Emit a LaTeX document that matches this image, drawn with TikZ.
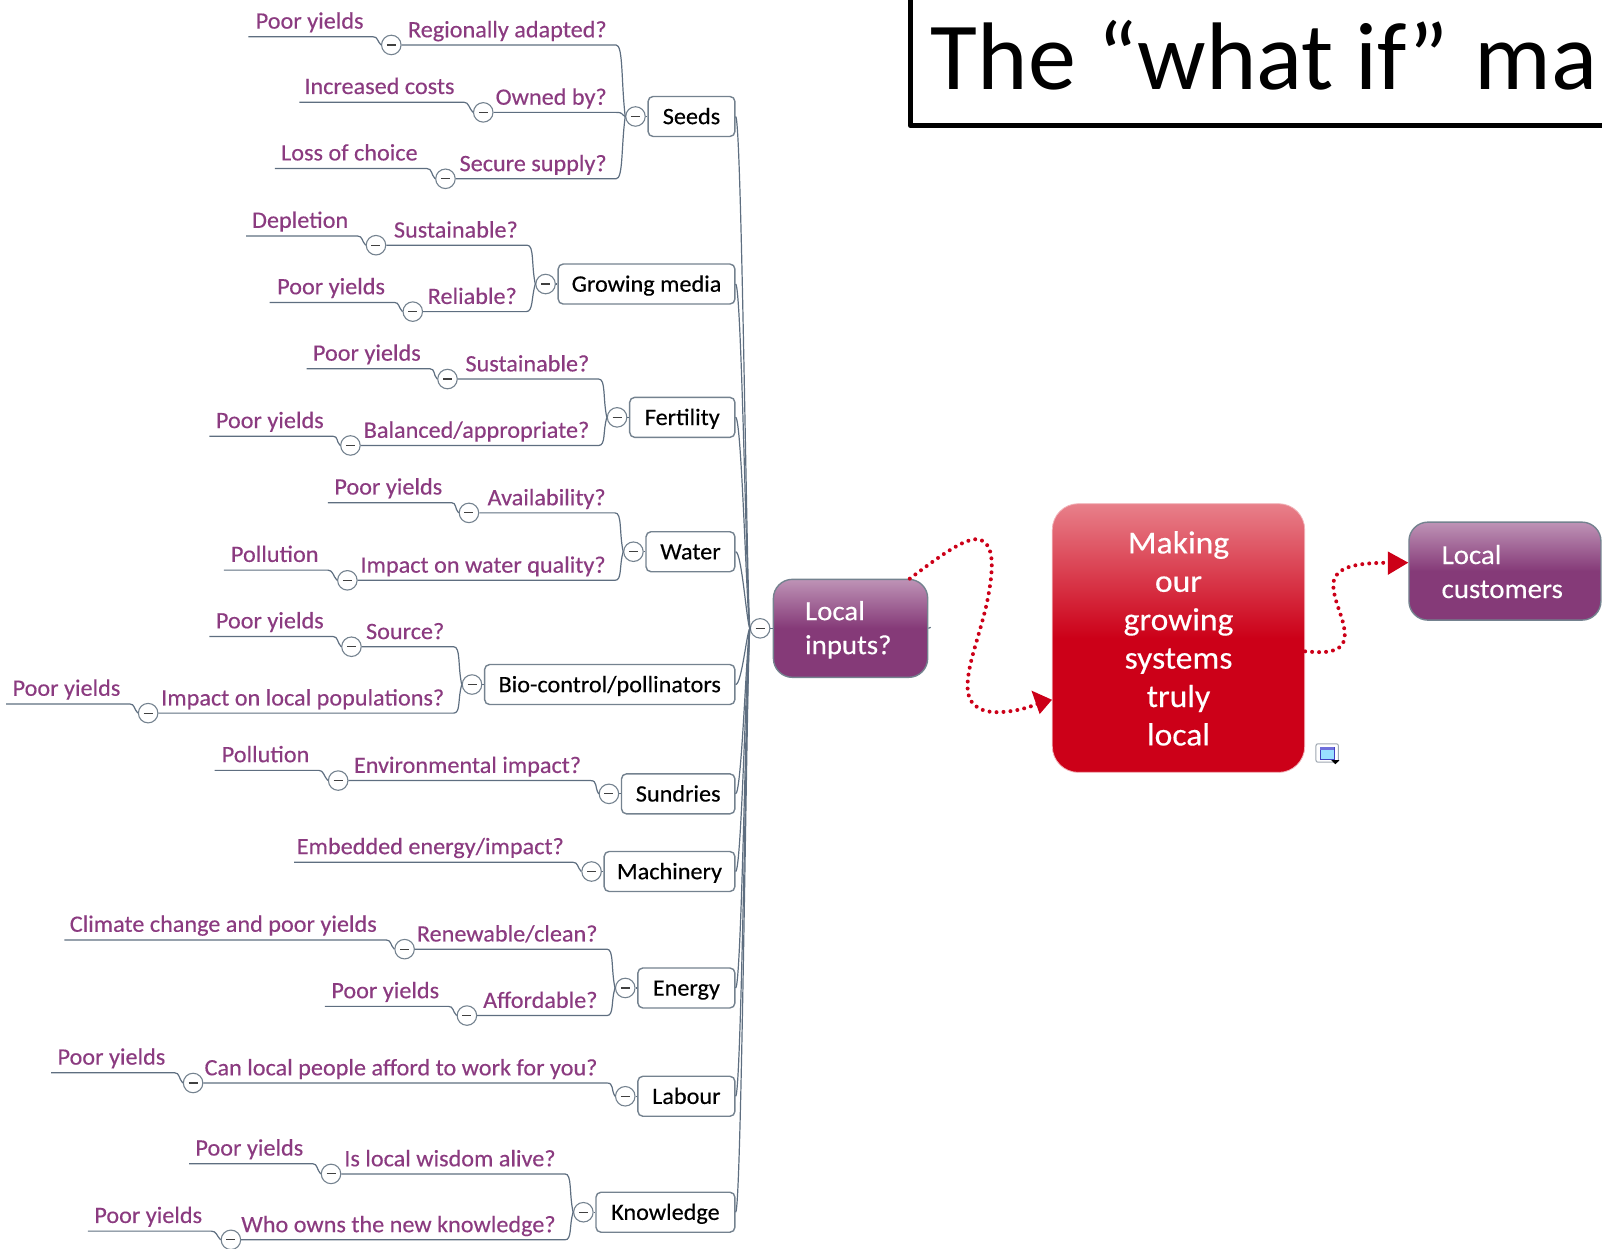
\documentclass[tikz,border=0pt]{standalone}
\usepackage{fontspec}
\setmainfont{Carlito}
\newfontfamily\mmfont[FakeBold=0.35,FakeStretch=1.03]{Carlito}
\newfontfamily\leadfont[FakeBold=0.3,FakeStretch=1.05]{Carlito}
\usetikzlibrary{calc,arrows.meta}
\definecolor{linkc}{HTML}{5E6E80}
\definecolor{boxc}{HTML}{74828F}
\definecolor{qc}{HTML}{8B3B80}
\definecolor{redtop}{HTML}{E8808A}
\definecolor{redbot}{HTML}{CC0018}
\definecolor{purtop}{HTML}{BE93B6}
\definecolor{purbot}{HTML}{853A78}
\tikzset{
  link/.style={draw=linkc,line width=1.2pt},
  topic/.style={draw=boxc,line width=1.4pt,fill=white,rounded corners=5pt,inner sep=0pt,minimum height=40pt,text height=20pt,text depth=4.7pt,font=\mmfont\fontsize{23.5}{25}\selectfont,text=black},
  minus/.style={circle,draw=boxc,line width=1.1pt,fill=white,minimum size=19.5pt,inner sep=0pt,
    path picture={\draw[line width=1.1pt,draw=black!75] ($(path picture bounding box.center)+(-4.5pt,0)$) -- ($(path picture bounding box.center)+(4.5pt,0)$);}},
  qtext/.style={text=qc,inner sep=0pt,font=\mmfont\fontsize{23.5}{25}\selectfont},
  lead/.style={draw=boxc,line width=1.4pt,text=white,inner sep=0pt,align=left,
     font=\leadfont\fontsize{27.5}{34}\selectfont,rounded corners=19pt,
     top color=purtop,bottom color=purbot,middle color=purbot},
  core/.style={draw=redtop!60!white,line width=.8pt,text=white,inner sep=0pt,align=center,
     font=\leadfont\fontsize{32}{38.4}\selectfont,rounded corners=26pt,
     top color=redtop,bottom color=redbot,middle color=redbot},
  dotted link/.style={draw=redbot,line width=4pt,line cap=round,dash pattern=on 0pt off 7pt},
  redtip/.style={draw=none,fill=redbot},
}
% #1 id, #2 left x, #3 centre y, #4 text
\newcommand{\topicnode}[4]{%
  \node[topic,anchor=east,minimum width={(720-#2)*1.0217pt}] (#1) at (720,#3) {#4};
  \node[minus] (#1c) at ({#2-13},#3) {};
  \draw[link] (#1c) -- (#1);
  \draw[link] (#1.east) .. controls +(6,0) and ($(mainc.west)+(-3,{(#3-615)*0.06})$) .. (mainc.west);
}
% #1 id, #2 circle x, #3 line y, #4 text right x, #5 text, #6 parent y, #7 parent circle
\newcommand{\question}[7]{%
  \node[minus] (#1c) at (#2,#3) {};
  \node[qtext,anchor=base east] (#1) at (#4,{#3-7.5}) {#5};
  \coordinate (#1e) at ({#4+9},#3);
  \draw[link] (#1c.east) -- (#1e) .. controls +(7,0) and +(-4,{(#3-#6)*0.5}) .. (#7.west);
}
% #1 id, #2 line left x, #3 text right x, #4 line y, #5 text, #6 target circle
\newcommand{\answer}[6]{%
  \node[qtext,anchor=base east] (#1) at (#3,{#4-8}) {#5};
  \coordinate (#1s) at (#2,#4);
  \coordinate (#1e) at ({#3+9},#4);
  \draw[link] (#1s) -- (#1e) .. controls +(5,0) and +(-4,-4) .. (#6.west);
}
\begin{document}
\begin{tikzpicture}[x=1.0217pt,y=-1.0217pt]
\useasboundingbox (0,0) rectangle (1568,1222);
% title
\draw[line width=5pt,line join=round,black] (891,-5) -- (891,123) -- (1575,123);
\node[anchor=base west,inner sep=0pt,font=\fontsize{96}{100}\selectfont] (title) at (911,88) {The “what if\kern.02em” \kern.04em ma};
% centre
\node[minus] (mainc) at (744,615) {};
\node[lead,anchor=center,minimum width=154.3pt,minimum height=98pt,text width=91pt,inner xsep=31.6pt] (inputs) at (832.5,615) {\rule{0pt}{22pt}Local\\inputs?};
\draw[link] (mainc) -- (inputs);
\coordinate (tick) at (911,614);
\draw[link] (inputs.east) -- (tick);
\node[core,minimum width=252.4pt,minimum height=268.7pt,text width=200pt] (red) at (1153.5,624.5) {\rule{0pt}{23pt}Making\\our\\growing\\systems\\truly\\local};
\node[lead,minimum width=192pt,minimum height=98pt,text width=128.7pt,inner xsep=31.6pt] (cust) at (1473,559) {\rule{0pt}{20pt}\hspace{1pt}Local\\\hspace*{1pt}customers};
% topics
\topicnode{seeds}{635}{114}{Seeds}
\topicnode{media}{547}{278}{Growing media}
\topicnode{fert}{617}{408.5}{Fertility}
\topicnode{water}{633}{540}{Water}
\topicnode{bio}{475}{670}{Bio-control/pollinators}
\topicnode{sund}{609}{777}{Sundries}
\topicnode{mach}{592}{853}{Machinery}
\topicnode{ener}{625}{967}{Energy}
\topicnode{labo}{625}{1073}{Labour}
\topicnode{know}{584}{1186.5}{Knowledge}
% seeds
\question{q1}{383}{44}{594}{Regionally adapted?}{114}{seedsc}
\answer{a1}{243}{356}{36}{Poor yields}{q1c}
\question{q2}{473}{110}{594}{Owned by?}{114}{seedsc}
\answer{a2}{293}{445}{100}{Increased costs}{q2c}
\question{q3}{436}{175}{594}{Secure supply?}{114}{seedsc}
\answer{a3}{269}{409}{165}{Loss of choice}{q3c}
% growing media
\question{q4}{368}{240}{507}{Sustainable?}{278}{mediac}
\answer{a4}{241}{341}{231}{Depletion}{q4c}
\question{q5}{404}{305}{506}{Reliable?}{278}{mediac}
\answer{a5}{264}{377}{296}{Poor yields}{q5c}
% fertility
\question{q6}{438}{371}{577}{Sustainable?}{408.5}{fertc}
\answer{a6}{300}{412}{361}{Poor yields}{q6c}
\question{q7}{343}{436}{577}{Balanced/appropriate?}{408.5}{fertc}
\answer{a7}{205}{317}{427}{Poor yields}{q7c}
% water
\question{q8}{459}{502}{593}{Availability?}{540}{waterc}
\answer{a8}{321}{433}{492}{Poor yields}{q8c}
\question{q9}{340}{568}{593}{Impact on water quality?}{540}{waterc}
\answer{a9}{219}{312}{558}{Pollution}{q9c}
% bio
\question{q10}{344}{633}{435}{Source?}{670}{bioc}
\answer{a10}{205}{317}{623}{Poor yields}{q10c}
\question{q11}{145}{698}{435}{Impact on local populations?}{670}{bioc}
\answer{a11}{6}{118}{689}{Poor yields}{q11c}
% sundries
\question{q12}{331}{764}{569}{Environmental impact?}{777}{sundc}
\answer{a12}{210}{303}{754}{Pollution}{q12c}
% machinery
\answer{a13}{288}{552}{844}{Embedded energy/impact?}{machc}
% energy
\question{q14}{396}{929}{585}{Renewable/clean?}{967}{enerc}
\answer{a14}{63}{369}{920}{Climate change and poor yields}{q14c}
\question{q15}{457}{994}{585}{Affordable?}{967}{enerc}
\answer{a15}{318}{430}{985}{Poor yields}{q15c}
% labour
\question{q16}{189}{1060}{585}{Can local people afford to work for you?}{1073}{laboc}
\answer{a16}{50}{162}{1050}{Poor yields}{q16c}
% knowledge
\question{q17}{324}{1149}{544}{Is local wisdom alive?}{1186.5}{knowc}
\answer{a17}{185}{297}{1139}{Poor yields}{q17c}
\question{q18}{226}{1213.5}{544}{Who owns the new knowledge?}{1186.5}{knowc}
\answer{a18}{86}{198}{1205}{Poor yields}{q18c}
% dotted links
\coordinate (endA) at ($(red.206)+(-14,4)$);
\draw[dotted link] (inputs.40) .. controls (915,548) and (945,525) .. (958,528)
  .. controls (975,532) and (972,560) .. (966,590)
  .. controls (958,625) and (947,650) .. (947,672)
  .. controls (947,692) and (962,698) .. (980,697)
  .. controls (995,696) and (1005,693) .. (endA);
\fill[redtip] (red.206) -- ++(-20,-9) -- ++(8,23) -- cycle;
\coordinate (endB) at ($(cust.175)+(-16,0)$);
\draw[dotted link] (red.-6.4) .. controls (1295,639) and (1313,640) .. (1316,625)
  .. controls (1318,608) and (1305,590) .. (1305,572)
  .. controls (1306,552) and (1335,551) .. (endB);
\fill[redtip] (cust.175) -- ++(-20,-11) -- ++(0,23) -- cycle;
% icon
\draw[draw=boxc!70,line width=1pt,fill=white,rounded corners=2pt] (1288,728) rectangle (1310,746);
\draw[draw=blue!50!gray,fill=blue!30!cyan!40,line width=.8pt] (1292,731.5) rectangle (1306,743);
\fill[blue!60!gray!70] (1292,731.5) rectangle (1306,734);
\fill[black] (1303,744) -- (1311,744) -- (1307,748) -- cycle;
\end{tikzpicture}
\end{document}
